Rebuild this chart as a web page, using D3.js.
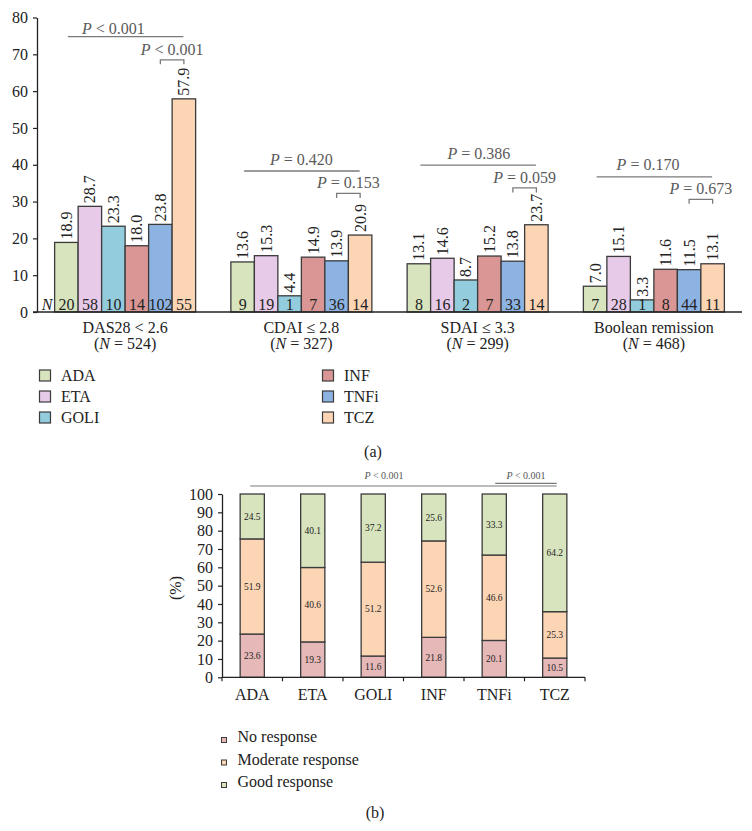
<!DOCTYPE html>
<html><head><meta charset="utf-8">
<script src="https://cdn.jsdelivr.net/npm/d3@7"></script>
<style>
html,body{margin:0;padding:0;background:#fff;}
svg, svg text{font-family:"Liberation Serif","DejaVu Serif",serif;}
</style></head>
<body>
<svg id="chart" width="752" height="831" font-family="Liberation Serif"></svg>
<script>
// ---------- Data: panel (a) ----------
const drugs = ["ADA","ETA","GOLI","INF","TNFi","TCZ"];
const drugColors = ["#d7e4bd","#e6cae8","#93cddd","#d99694","#8db3e2","#fcd5b5"];
const criteria = ["DAS28 < 2.6","CDAI \u2264 2.8","SDAI \u2264 3.3","Boolean remission"];
const criteriaN = [524, 327, 299, 468];
const remissionRates = [
  [18.9, 28.7, 23.3, 18.0, 23.8, 57.9],
  [13.6, 15.3, 4.4, 14.9, 13.9, 20.9],
  [13.1, 14.6, 8.7, 15.2, 13.8, 23.7],
  [7.0, 15.1, 3.3, 11.6, 11.5, 13.1]
];
const remissionCounts = [
  [20, 58, 10, 14, 102, 55],
  [9, 19, 1, 7, 36, 14],
  [8, 16, 2, 7, 33, 14],
  [7, 28, 1, 8, 44, 11]
];
const yTicksA = [0,10,20,30,40,50,60,70,80];
// P-values: all drugs comparison and TNFi vs TCZ, with the level (in %) of each line
const pAll = ["< 0.001","= 0.420","= 0.386","= 0.170"];
const pAllLevel = [74.8, 38.3, 39.9, 36.7];
const pAllTextPos = [2.5, 3.0, 3.05, 2.75];
const pPair = ["< 0.001","= 0.153","= 0.059","= 0.673"];
const pPairLevel = [68.5, 32.2, 33.7, 30.6];

// ---------- Data: panel (b) ----------
const responses = ["No response","Moderate response","Good response"];
const responseColors = ["#e6b9b8","#fcd5b5","#d7e4bd"];
const noResponse = [23.6, 19.3, 11.6, 21.8, 20.1, 10.5];
const moderateResponse = [51.9, 40.6, 51.2, 52.6, 46.6, 25.3];
const goodResponse = [24.5, 40.1, 37.2, 25.6, 33.3, 64.2];
const yTicksB = [0,10,20,30,40,50,60,70,80,90,100];

const SERIF = "Liberation Serif";
const svg = d3.select("#chart");
const ink = "#222";
const outline = "#3b3b3b";
const grey = "#7a7a7a";

// ================= Panel (a) =================
const A = {left:37, right:742, top:17.5, bottom:312};
const xA = d3.scaleBand().domain(criteria).range([A.left, A.right]).paddingInner(0.2).paddingOuter(0.1);
const xInner = d3.scaleBand().domain(drugs).range([0, xA.bandwidth()]);
const yA = d3.scaleLinear().domain([0,80]).range([A.bottom, A.top]);

const gA = svg.append("g");
// y axis
const yAxisA = gA.append("g").attr("transform",`translate(${A.left},0)`)
  .call(d3.axisLeft(yA).tickValues(yTicksA).tickSize(4).tickPadding(5).tickSizeOuter(0))
  .attr("font-family",SERIF).attr("font-size",16);
yAxisA.select(".domain").attr("stroke",ink).attr("stroke-width",1.3);
yAxisA.selectAll(".tick line").attr("stroke",ink).attr("stroke-width",1.2);
yAxisA.selectAll("text").attr("font-size",16).attr("fill",ink).attr("font-family",SERIF);

// bars
criteria.forEach((c, gi) => {
  const g = gA.append("g").attr("transform",`translate(${xA(c)},0)`);
  const vals = remissionRates[gi];
  g.selectAll("rect").data(vals).join("rect")
    .attr("x",(d,i)=>xInner(drugs[i]))
    .attr("y",d=>yA(d))
    .attr("width",xInner.bandwidth())
    .attr("height",d=>yA(0)-yA(d))
    .attr("fill",(d,i)=>drugColors[i])
    .attr("stroke",outline).attr("stroke-width",1.3);
  // value labels rotated
  g.selectAll("text.val").data(vals).join("text").attr("class","val")
    .attr("transform",(d,i)=>`translate(${xInner(drugs[i])+xInner.bandwidth()/2},${yA(d)-3}) rotate(-90)`)
    .attr("dy","0.35em")
    .attr("font-size",16).attr("fill",ink)
    .text(d=>d.toFixed(1));
  // N labels
  g.selectAll("text.n").data(remissionCounts[gi]).join("text").attr("class","n")
    .attr("x",(d,i)=>xInner(drugs[i])+xInner.bandwidth()/2)
    .attr("y",yA(0)-2.5)
    .attr("text-anchor","middle").attr("font-size",16).attr("fill",ink)
    .text(d=>d);
  // category labels
  const cx = xA.bandwidth()/2;
  g.append("text").attr("x",cx).attr("y",332.5).attr("text-anchor","middle")
    .attr("font-size",16).attr("fill",ink).text(c);
  const t2 = g.append("text").attr("x",cx).attr("y",349).attr("text-anchor","middle")
    .attr("font-size",16).attr("fill",ink);
  t2.append("tspan").text("(");
  t2.append("tspan").attr("font-style","italic").text("N");
  t2.append("tspan").text(` = ${criteriaN[gi]})`);

  // P-value: all drugs
  const bw = xInner.bandwidth();
  const x0 = xInner(drugs[0]) + bw/2 + 1.5;
  const x5 = xInner(drugs[5]) + bw/2 - 0.5;
  const yl = yA(pAllLevel[gi]);
  g.append("line").attr("x1",x0).attr("x2",x5).attr("y1",yl).attr("y2",yl)
    .attr("stroke",grey).attr("stroke-width",1.3);
  const pt = g.append("text").attr("x",bw*pAllTextPos[gi]).attr("y",yl-(gi===0?3:6.5))
    .attr("text-anchor","middle").attr("font-size",16).attr("fill","#5a5a5a");
  pt.append("tspan").attr("font-style","italic").text("P");
  pt.append("tspan").text(" " + pAll[gi]);

  // P-value: TNFi vs TCZ bracket
  const b0 = xInner(drugs[4]) + bw/2;
  const b1 = xInner(drugs[5]) + bw/2;
  const yb = yA(pPairLevel[gi]);
  g.append("path").attr("d",`M${b0},${yb+4.5}V${yb}H${b1}V${yb+4.5}`)
    .attr("fill","none").attr("stroke",grey).attr("stroke-width",1.3);
  const pb = g.append("text").attr("x",(b0+b1)/2).attr("y",yb-5)
    .attr("text-anchor","middle").attr("font-size",16).attr("fill","#5a5a5a");
  pb.append("tspan").attr("font-style","italic").text("P");
  pb.append("tspan").text(" " + pPair[gi]);
});
// "N" row label
gA.append("text").attr("x",47).attr("y",yA(0)-2.5).attr("text-anchor","middle")
  .attr("font-size",16).attr("font-style","italic").attr("fill",ink).text("N");
// x axis line (drawn on top)
gA.append("line").attr("x1",A.left-4).attr("x2",A.right).attr("y1",yA(0)).attr("y2",yA(0))
  .attr("stroke",ink).attr("stroke-width",1.5);

// legend (a)
const legA = gA.append("g");
drugs.forEach((d,i)=>{
  const col = Math.floor(i/3), row = i%3;
  const lx = col===0 ? 39.5 : 322.5;
  const ly = 370 + row*21;
  legA.append("rect").attr("x",lx).attr("y",ly).attr("width",11).attr("height",11)
    .attr("fill",drugColors[i]).attr("stroke",outline).attr("stroke-width",1.2);
  legA.append("text").attr("x",lx+21.5).attr("y",ly+11).attr("font-size",16).attr("fill",ink).text(d);
});
svg.append("text").attr("x",373).attr("y",457).attr("text-anchor","middle")
  .attr("font-size",16).attr("fill",ink).text("(a)");

// ================= Panel (b) =================
const B = {left:222, right:585, top:494, bottom:677.3};
const xB = d3.scaleBand().domain(drugs).range([B.left,B.right]).paddingInner(0.6).paddingOuter(0.3);
const yB = d3.scaleLinear().domain([0,100]).range([B.bottom,B.top]);
const gB = svg.append("g");

const yAxisB = gB.append("g").attr("transform",`translate(${B.left},0)`)
  .call(d3.axisLeft(yB).tickValues(yTicksB).tickSize(4).tickPadding(5).tickSizeOuter(0))
  .attr("font-family",SERIF).attr("font-size",16);
yAxisB.select(".domain").attr("stroke",ink).attr("stroke-width",1.3);
yAxisB.selectAll(".tick line").attr("stroke",ink).attr("stroke-width",1.2);
yAxisB.selectAll("text").attr("font-size",16).attr("fill",ink).attr("font-family",SERIF);

gB.append("text").attr("transform",`translate(175,588) rotate(-90)`).attr("dy","0.35em")
  .attr("text-anchor","middle").attr("font-size",16).attr("fill",ink).text("(%)");

const stackRows = drugs.map((d,i)=>({drug:d, r0:noResponse[i], r1:moderateResponse[i], r2:goodResponse[i]}));
const stack = d3.stack().keys(["r0","r1","r2"])(stackRows);
stack.forEach((layer,li)=>{
  gB.append("g").selectAll("rect").data(layer).join("rect")
    .attr("x",d=>xB(d.data.drug))
    .attr("y",d=>yB(d[1]))
    .attr("width",xB.bandwidth())
    .attr("height",d=>yB(d[0])-yB(d[1]))
    .attr("fill",responseColors[li])
    .attr("stroke",outline).attr("stroke-width",1.3);
  gB.append("g").selectAll("text").data(layer).join("text")
    .attr("x",d=>xB(d.data.drug)+xB.bandwidth()/2)
    .attr("y",d=>yB((d[0]+d[1])/2))
    .attr("dy","0.35em").attr("text-anchor","middle")
    .attr("font-size",9.5).attr("fill",ink)
    .text(d=>(d[1]-d[0]).toFixed(1));
});

// x axis (b) with ticks between categories
const xAxisG = gB.append("g");
xAxisG.append("line").attr("x1",B.left).attr("x2",B.right).attr("y1",B.bottom).attr("y2",B.bottom)
  .attr("stroke",ink).attr("stroke-width",1.3);
const boundaries = drugs.map(d=>xB(d)-xB.step()*xB.paddingInner()/2).concat([B.right]);
boundaries[0] = B.left;
xAxisG.selectAll("line.tk").data(boundaries).join("line").attr("class","tk")
  .attr("x1",d=>d).attr("x2",d=>d).attr("y1",B.bottom).attr("y2",B.bottom+4)
  .attr("stroke",ink).attr("stroke-width",1.2);
xAxisG.selectAll("text").data(drugs).join("text")
  .attr("x",d=>xB(d)+xB.bandwidth()/2).attr("y",700)
  .attr("text-anchor","middle").attr("font-size",16).attr("fill",ink).text(d=>d);

// P-values (b)
const cAda = xB("ADA")+xB.bandwidth()/2, cTcz = xB("TCZ")+xB.bandwidth()/2, cTnf = xB("TNFi")+xB.bandwidth()/2;
gB.append("line").attr("x1",cAda-2).attr("x2",cTcz+2).attr("y1",yB(100)-8).attr("y2",yB(100)-8)
  .attr("stroke",grey).attr("stroke-width",1.2);
gB.append("line").attr("x1",cTnf+1).attr("x2",cTcz+2).attr("y1",yB(100)-10.7).attr("y2",yB(100)-10.7)
  .attr("stroke",grey).attr("stroke-width",1.2);
[[384,"< 0.001"],[526,"< 0.001"]].forEach(([x,t])=>{
  const tx = gB.append("text").attr("x",x).attr("y",478.5).attr("text-anchor","middle")
    .attr("font-size",10).attr("fill","#555");
  tx.append("tspan").attr("font-style","italic").text("P");
  tx.append("tspan").text(" " + t);
});

// legend (b)
responses.forEach((r,i)=>{
  const ly = 737.5 + i*22.5;
  gB.append("rect").attr("x",221.5).attr("y",ly).attr("width",5).attr("height",5)
    .attr("fill",responseColors[i]).attr("stroke",outline).attr("stroke-width",1);
  gB.append("text").attr("x",237.5).attr("y",ly+4.5).attr("font-size",16).attr("fill",ink).text(r);
});
svg.append("text").attr("x",375).attr("y",818).attr("text-anchor","middle")
  .attr("font-size",16).attr("fill",ink).text("(b)");
</script>
</body></html>
